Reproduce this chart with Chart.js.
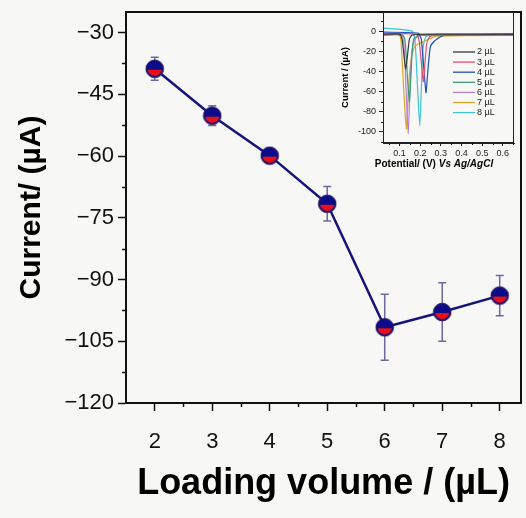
<!DOCTYPE html>
<html><head><meta charset="utf-8">
<script src="https://cdn.jsdelivr.net/npm/chart.js@4"></script>
<style>
html,body{margin:0;padding:0;background:#f7f7f5;}
#wrap{position:relative;width:526px;height:518px;overflow:hidden;}
#main{position:absolute;left:0;top:0;}
#inset{position:absolute;left:330px;top:0;}
</style></head><body>
<div id="wrap"><canvas id="main" width="526" height="518"></canvas><canvas id="inset" width="196" height="172"></canvas></div>
<script>
// ---- main chart data ----
const volumes = [2, 3, 4, 5, 6, 7, 8];
const currents = [-38.8, -50.2, -59.9, -71.6, -101.6, -97.9, -93.9];
const errors = [2.8, 2.4, 1.0, 4.2, 8.0, 7.1, 4.9];
const xTicks = [2, 3, 4, 5, 6, 7, 8];
const xMinor = [2.5, 3.5, 4.5, 5.5, 6.5, 7.5];
const yTicks = [-120, -105, -90, -75, -60, -45, -30];
const yMinor = [-112.5, -97.5, -82.5, -67.5, -52.5, -37.5];

// ---- inset data ----
const insetLabels = ['2 µL', '3 µL', '4 µL', '5 µL', '6 µL', '7 µL', '8 µL'];
const insetColors = ['#3a3a3a', '#e0506e', '#2050b8', '#3c9a78', '#b87ed8', '#d8a82a', '#3cc4d4'];
const v2x = [0.02, 0.10, 0.112, 0.122, 0.130, 0.138, 0.148, 0.16, 0.25, 0.654];
const v2y = [-3, -3, -8, -25, -38, -25, -8, -4, -3, -3];
const v3x = [0.02, 0.18, 0.195, 0.205, 0.215, 0.222, 0.232, 0.25, 0.35, 0.654];
const v3y = [-3, -3, -10, -30, -50, -35, -12, -5, -4, -4];
const v4x = [0.02, 0.19, 0.205, 0.215, 0.228, 0.235, 0.25, 0.28, 0.32, 0.654];
const v4y = [-1, -2, -8, -30, -61, -45, -15, -8, -4, -3];
const v5x = [0.02, 0.115, 0.128, 0.138, 0.148, 0.156, 0.168, 0.2, 0.654];
const v5y = [-4, -4, -12, -45, -70, -40, -8, -4, -4];
const v6x = [0.02, 0.11, 0.122, 0.132, 0.142, 0.15, 0.16, 0.175, 0.2, 0.654];
const v6y = [-3, -3, -15, -60, -102, -60, -20, -8, -4, -3];
const v7x = [0.02, 0.10, 0.11, 0.122, 0.134, 0.142, 0.155, 0.175, 0.22, 0.28, 0.654];
const v7y = [-4, -4, -20, -65, -97, -60, -30, -15, -10, -5, -4];
const v8x = [0.02, 0.16, 0.175, 0.187, 0.198, 0.206, 0.215, 0.23, 0.3, 0.654];
const v8y = [3, 0, -10, -55, -94, -55, -15, -5, -3, -3];
const insetX = [v2x, v3x, v4x, v5x, v6x, v7x, v8x];
const insetY = [v2y, v3y, v4y, v5y, v6y, v7y, v8y];
const insetXTicks = [0.1, 0.2, 0.3, 0.4, 0.5, 0.6];
const insetXMinor = [0.05, 0.15, 0.25, 0.35, 0.45, 0.55, 0.65];
const insetYTicks = [-100, -80, -60, -40, -20, 0];
const insetYMinor = [-110, -90, -70, -50, -30, -10, 10];

const FONT = "'Liberation Sans', Arial, sans-serif";

function makeMarker() {
  const c = document.createElement('canvas'); c.width = 20; c.height = 20;
  const g = c.getContext('2d');
  g.beginPath(); g.arc(10, 10, 8.8, 0, 2 * Math.PI); g.fillStyle = '#0c0c88'; g.fill();
  g.save(); g.beginPath(); g.arc(10, 10, 7.2, 0, 2 * Math.PI); g.clip();
  g.fillStyle = '#ea1018'; g.fillRect(0, 11, 20, 9); g.restore();
  g.beginPath(); g.arc(10, 10, 8.8, 0, 2 * Math.PI); g.strokeStyle = '#2a1a5a'; g.lineWidth = 1; g.stroke();
  return c;
}

function minorTicks(ctx, chart, xs, ys, len, w) {
  const xa = chart.scales.x, ya = chart.scales.y, a = chart.chartArea;
  ctx.save(); ctx.strokeStyle = '#111'; ctx.lineWidth = w;
  xs.forEach(v => { if (v < xa.min || v > xa.max) return; const px = Math.round(xa.getPixelForValue(v)) + 0.5;
    ctx.beginPath(); ctx.moveTo(px, a.bottom); ctx.lineTo(px, a.bottom + len); ctx.stroke(); });
  ys.forEach(v => { if (v < ya.min || v > ya.max) return; const py = Math.round(ya.getPixelForValue(v)) + 0.5;
    ctx.beginPath(); ctx.moveTo(a.left, py); ctx.lineTo(a.left - len, py); ctx.stroke(); });
  ctx.restore();
}

const mainExtras = {
  id: 'mainExtras',
  beforeDraw(chart) {
    const ctx = chart.ctx; ctx.save(); ctx.fillStyle = '#f7f7f5'; ctx.fillRect(0, 0, chart.width, chart.height); ctx.restore();
  },
  beforeDatasetsDraw(chart) {
    const ctx = chart.ctx, xa = chart.scales.x, ya = chart.scales.y;
    ctx.save(); ctx.strokeStyle = '#6a6aa0'; ctx.lineWidth = 1.5;
    volumes.forEach((v, i) => {
      const px = xa.getPixelForValue(v);
      const t = ya.getPixelForValue(currents[i] + errors[i]);
      const b = ya.getPixelForValue(currents[i] - errors[i]);
      ctx.beginPath(); ctx.moveTo(px, t); ctx.lineTo(px, b);
      ctx.moveTo(px - 4, t); ctx.lineTo(px + 4, t);
      ctx.moveTo(px - 4, b); ctx.lineTo(px + 4, b); ctx.stroke();
    });
    ctx.restore();
  },
  afterDraw(chart) {
    const ctx = chart.ctx, a = chart.chartArea;
    minorTicks(ctx, chart, xMinor, yMinor, 4, 1.5);
    ctx.save(); ctx.strokeStyle = '#111'; ctx.lineWidth = 2;
    ctx.strokeRect(a.left, a.top, a.right - a.left, a.bottom - a.top);
    ctx.restore();
  }
};

new Chart(document.getElementById('main'), {
  type: 'line',
  data: { datasets: [{
    data: volumes.map((v, i) => ({ x: v, y: currents[i] })),
    borderColor: '#14147a', borderWidth: 2.5, tension: 0,
    pointStyle: makeMarker(), pointRadius: 9
  }] },
  options: {
    responsive: false, animation: false, devicePixelRatio: 1,
    layout: { autoPadding: false, padding: { top: 12, right: 5, left: 0, bottom: 0 } },
    plugins: { legend: { display: false }, tooltip: { enabled: false } },
    scales: {
      x: {
        type: 'linear', min: 1.5, max: 8.37,
        afterBuildTicks: s => { s.ticks = xTicks.map(v => ({ value: v })); },
        afterFit: s => { s.height = 115; s.paddingLeft = 0; s.paddingRight = 0; },
        grid: { drawOnChartArea: false, tickLength: 8, tickWidth: 1.5, tickColor: '#111' },
        border: { color: '#111', width: 2 },
        ticks: { font: { family: FONT, size: 22 }, color: '#111', padding: 18, callback: v => String(v) },
        title: { display: true, text: 'Loading volume / (µL)', font: { family: FONT, size: 36, weight: 'bold' }, color: '#000', padding: { top: 12, bottom: 12 } }
      },
      y: {
        type: 'linear', min: -120, max: -25,
        afterBuildTicks: s => { s.ticks = yTicks.map(v => ({ value: v })); },
        afterFit: s => { s.width = 126; s.paddingTop = 0; s.paddingBottom = 0; },
        grid: { drawOnChartArea: false, tickLength: 8, tickWidth: 1.5, tickColor: '#111' },
        border: { color: '#111', width: 2 },
        ticks: { font: { family: FONT, size: 22 }, color: '#111', padding: 4, callback: v => String(v).replace('-', '\u2212') },
        title: { display: true, text: 'Current/ (µA)', font: { family: FONT, size: 30, weight: 'bold' }, color: '#000', padding: { top: 14, bottom: 14 } }
      }
    }
  },
  plugins: [mainExtras]
});

const insetExtras = {
  id: 'insetExtras',
  afterDraw(chart) {
    const ctx = chart.ctx, a = chart.chartArea;
    minorTicks(ctx, chart, insetXMinor, insetYMinor, 2, 1);
    ctx.save(); ctx.strokeStyle = '#222'; ctx.lineWidth = 1;
    ctx.strokeRect(a.left + 0.5, a.top + 0.5, a.right - a.left - 1, a.bottom - a.top - 1);
    // legend
    ctx.font = '9px ' + FONT; ctx.textBaseline = 'middle';
    insetLabels.forEach((lab, i) => {
      const y = 52 + i * 10.1;
      ctx.strokeStyle = insetColors[i]; ctx.lineWidth = 1.3;
      ctx.beginPath(); ctx.moveTo(123, y); ctx.lineTo(145, y); ctx.stroke();
      ctx.fillStyle = '#222'; ctx.fillText(lab, 147, y);
    });
    // x title with italic part
    const p1 = 'Potential/ (V) ', p2 = 'Vs Ag/AgCl';
    ctx.fillStyle = '#000'; ctx.textBaseline = 'middle';
    ctx.font = 'bold 10px ' + FONT; const w1 = ctx.measureText(p1).width;
    ctx.font = 'italic bold 10px ' + FONT; const w2 = ctx.measureText(p2).width;
    const x0 = 104 - (w1 + w2) / 2;
    ctx.font = 'bold 10px ' + FONT; ctx.fillText(p1, x0, 164);
    ctx.font = 'italic bold 10px ' + FONT; ctx.fillText(p2, x0 + w1, 164);
    ctx.restore();
  }
};

new Chart(document.getElementById('inset'), {
  type: 'line',
  data: { datasets: insetLabels.map((lab, i) => ({
    label: lab,
    data: insetX[i].map((x, j) => ({ x: x, y: insetY[i][j] })),
    borderColor: insetColors[i], borderWidth: 1.2, pointRadius: 0, tension: 0.2
  })) },
  options: {
    responsive: false, animation: false, devicePixelRatio: 1,
    layout: { autoPadding: false, padding: { top: 12, right: 12, left: 0, bottom: 0 } },
    plugins: { legend: { display: false }, tooltip: { enabled: false } },
    scales: {
      x: {
        type: 'linear', min: 0.02, max: 0.654,
        afterBuildTicks: s => { s.ticks = insetXTicks.map(v => ({ value: v })); },
        afterFit: s => { s.height = 29; s.paddingLeft = 0; s.paddingRight = 0; },
        grid: { drawOnChartArea: false, tickLength: 3, tickColor: '#222' },
        border: { color: '#222', width: 1 },
        ticks: { font: { family: FONT, size: 9 }, color: '#222', padding: 2, callback: v => v.toFixed(1) }
      },
      y: {
        type: 'linear', min: -111, max: 19,
        afterBuildTicks: s => { s.ticks = insetYTicks.map(v => ({ value: v })); },
        afterFit: s => { s.width = 53; s.paddingTop = 0; s.paddingBottom = 0; },
        grid: { drawOnChartArea: false, tickLength: 4, tickColor: '#222' },
        border: { color: '#222', width: 1 },
        ticks: { font: { family: FONT, size: 9 }, color: '#222', padding: 3, callback: v => String(v) },
        title: { display: true, text: 'Current / (µA)', font: { family: FONT, size: 9.5, weight: 'bold' }, color: '#000', padding: { top: 10, bottom: 0 } }
      }
    }
  },
  plugins: [insetExtras]
});
</script>
</body></html>
